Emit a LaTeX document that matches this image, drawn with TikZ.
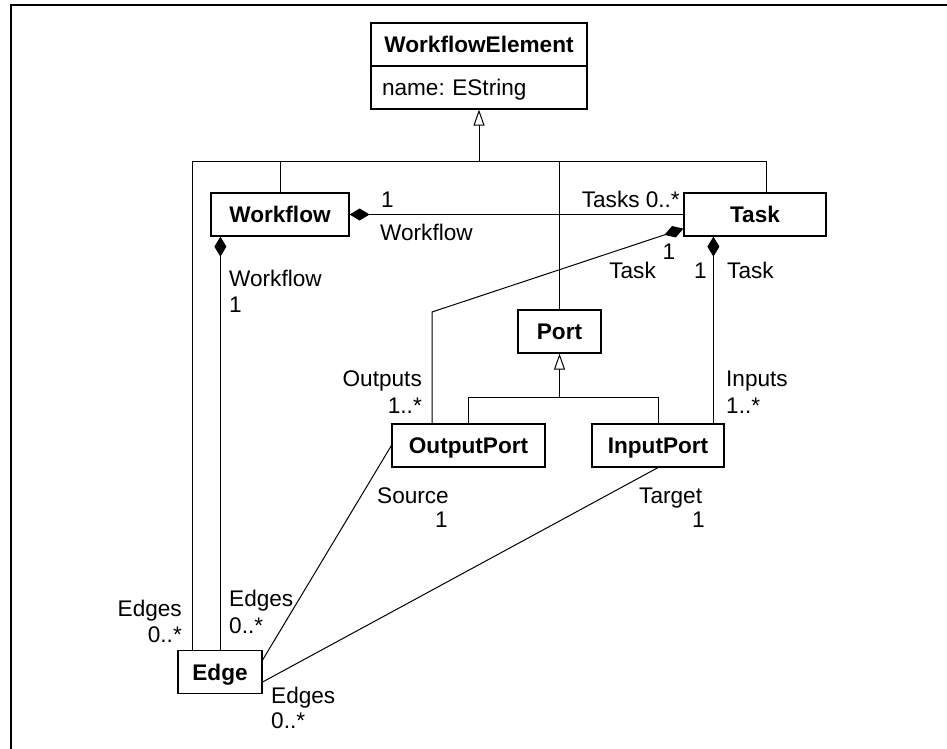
\documentclass[tikz,border=0pt]{standalone}
\usepackage{fontspec}
\setmainfont{Liberation Sans}
\usetikzlibrary{arrows.meta,calc}
\frenchspacing
\begin{document}
\begin{tikzpicture}[x=1pt,y=-1pt,
  font=\fontsize{22.6}{27}\selectfont,
  cls/.style={draw,line width=1.2pt,inner sep=0pt,text height=16.2pt,text depth=0pt,minimum height=43pt,font=\fontsize{22.6}{27}\selectfont\bfseries},
  ln/.style={line width=1pt},
  comp/.style={ln,{Diamond[length=20pt,width=12pt]}-},
  gen/.style={ln,-{Triangle[open,length=16pt,width=11pt,fill=white]}},
  lbl/.style={inner sep=0pt}]
\useasboundingbox (0,0) rectangle (947,749);
% frame
\draw[line width=2pt] (11,749) -- (11,5) -- (947,5);
% classes
\node[cls,minimum width=216pt] (weT) at (479,44.5) {WorkflowElement};
\node[draw,line width=1.2pt,minimum height=43pt,text width=194pt,inner xsep=11pt,inner ysep=0pt,align=left,text height=16.2pt,text depth=0pt] (weA) at (479,87.5) {name: EString};
\node[cls,minimum width=138pt] (workflow) at (280,214.5) {Workflow};
\node[cls,minimum width=142pt] (task) at (755,214.5) {Task};
\node[cls,minimum width=83pt] (port) at (559.5,331.5) {Port};
\node[cls,minimum width=153pt] (outport) at (468.5,445.5) {OutputPort};
\node[cls,minimum width=132pt] (inport) at (658,445.5) {InputPort};
\node[cls,minimum width=84pt] (edge) at (220,672) {Edge};
% helper coordinates
\coordinate (barL) at (192,161);
\coordinate (barR) at (766,161);
\coordinate (pbar) at (468.5,397);
\coordinate (obend) at (432,312);
\coordinate (tO) at ($(task.south west)+(0,-8)$);
\coordinate (tI) at ($(task.south west)+(30,0)$);
\coordinate (wE) at ($(workflow.south west)+(10,0)$);
% generalizations
\draw[ln] (edge.north -| barL) -- (barL) -- (barR) -- (task.north -| barR);
\draw[ln] (workflow.north) -- (workflow.north |- barL);
\draw[ln] (port.north) -- (port.north |- barL);
\draw[gen] (weA.south |- barL) -- (weA.south);
\draw[ln] (outport.north) -- (outport.north |- pbar) -- (inport.north |- pbar) -- (inport.north);
\draw[gen] (port.south |- pbar) -- (port.south);
% compositions
\draw[comp] (workflow.east) -- (task.west);
\draw[comp] (wE) -- (edge.north -| wE);
\draw[comp] (tO) -- (obend) -- (outport.north -| obend);
\draw[comp] (tI) -- (inport.north -| tI);
% associations
\draw[ln] (outport.west) -- ($(edge.east)+(0,-12)$);
\draw[ln] (inport.south) -- ($(edge.east)+(0,10)$);
% labels
\node[lbl,anchor=base west] (l1) at (381,207) {1};
\node[lbl,anchor=base east] (l2) at (680,207) {Tasks 0..*};
\node[lbl,anchor=base west] (l3) at (380,240) {Workflow};
\node[lbl,anchor=base west] (l4) at (229,286) {Workflow};
\node[lbl,anchor=base west] (l5) at (229,312) {1};
\node[lbl,anchor=base] (l6) at (669,259) {1};
\node[lbl,anchor=base east] (l7) at (656,278) {Task};
\node[lbl,anchor=base east] (l8) at (707,278) {1};
\node[lbl,anchor=base west] (l9) at (727,278) {Task};
\node[lbl,anchor=base east] (l10) at (422,386) {Outputs};
\node[lbl,anchor=base east] (l11) at (422,413) {1..*};
\node[lbl,anchor=base west] (l12) at (726,386) {Inputs};
\node[lbl,anchor=base west] (l13) at (726,413) {1..*};
\node[lbl,anchor=base west] (l14) at (377,503) {Source};
\node[lbl,anchor=base east] (l15) at (448,527) {1};
\node[lbl,anchor=base west] (l16) at (639,503) {Target};
\node[lbl,anchor=base east] (l17) at (705,527) {1};
\node[lbl,anchor=base east] (l18) at (182,616) {Edges};
\node[lbl,anchor=base east] (l19) at (182,642) {0..*};
\node[lbl,anchor=base west] (l20) at (229,606) {Edges};
\node[lbl,anchor=base west] (l21) at (229,633) {0..*};
\node[lbl,anchor=base west] (l22) at (271,703) {Edges};
\node[lbl,anchor=base west] (l23) at (271,728) {0..*};
\end{tikzpicture}
\end{document}
